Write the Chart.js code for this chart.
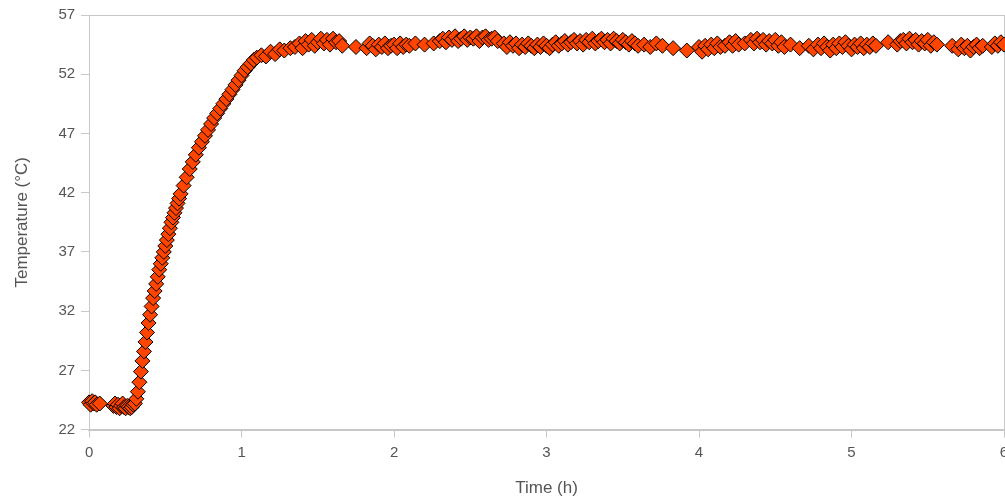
<!DOCTYPE html>
<html>
<head>
<meta charset="utf-8">
<script src="https://cdn.jsdelivr.net/npm/chart.js@4"></script>
<style>
  html, body { margin: 0; padding: 0; background: #fff; }
  #wrap { width: 1005px; height: 503px; }
</style>
</head>
<body>
<div id="wrap"><canvas id="tempChart"></canvas></div>
<script>
// time in hours
var timeH = [
  0.00, 0.01, 0.02, 0.03, 0.04, 0.05, 0.07,
  0.16, 0.17, 0.18, 0.19, 0.20, 0.21, 0.22, 0.23, 0.24, 0.25, 0.26, 0.27, 0.28, 0.29,
  0.30, 0.31, 0.32, 0.33, 0.34, 0.35, 0.36, 0.37, 0.38, 0.39, 0.40, 0.41, 0.42, 0.43, 0.44,
  0.45, 0.46, 0.47, 0.48, 0.49, 0.50, 0.51, 0.52, 0.53, 0.54, 0.55, 0.56, 0.57, 0.58, 0.59,
  0.60, 0.62, 0.64, 0.66, 0.68, 0.70, 0.72, 0.74, 0.76, 0.78, 0.80, 0.82, 0.84, 0.86, 0.88,
  0.90, 0.92, 0.94, 0.96, 0.98, 1.00, 1.02, 1.04, 1.06, 1.08, 1.10, 1.13, 1.16, 1.19, 1.22,
  1.25, 1.28, 1.32,
  1.35, 1.38, 1.40, 1.42, 1.44, 1.46, 1.48, 1.50, 1.52, 1.54, 1.56, 1.58, 1.60, 1.62, 1.64, 1.66,
  1.75, 1.82, 1.84, 1.86, 1.88, 1.90, 1.92, 1.94, 1.96, 1.98, 2.00, 2.02, 2.04, 2.06, 2.08, 2.10,
  2.14, 2.20, 2.26, 2.30, 2.32, 2.34, 2.36, 2.38, 2.40, 2.42, 2.44, 2.46, 2.48, 2.50, 2.52, 2.54,
  2.56, 2.58, 2.60, 2.62, 2.64, 2.66, 2.68, 2.72, 2.74, 2.76, 2.78, 2.80, 2.82, 2.84, 2.86, 2.88,
  2.90, 2.92, 2.94, 2.96, 2.98, 3.00, 3.02, 3.04, 3.06, 3.08, 3.10, 3.12, 3.14, 3.16, 3.18, 3.20,
  3.22, 3.24, 3.26, 3.28, 3.30, 3.32, 3.34, 3.36, 3.38, 3.40, 3.42, 3.44, 3.46, 3.48, 3.50, 3.52,
  3.54, 3.56, 3.58, 3.60, 3.64, 3.68, 3.72, 3.76, 3.83, 3.92,
  4.00, 4.02, 4.04, 4.06, 4.08, 4.10, 4.12, 4.14, 4.17, 4.20, 4.22, 4.24, 4.26, 4.30, 4.34, 4.36,
  4.38, 4.40, 4.42, 4.44, 4.46, 4.48, 4.50, 4.52, 4.54, 4.56, 4.60, 4.66, 4.72, 4.75, 4.78, 4.80,
  4.82, 4.84, 4.86, 4.88, 4.90, 4.92, 4.94, 4.96, 4.98, 5.00, 5.02, 5.04, 5.06, 5.08, 5.10, 5.12,
  5.14, 5.16, 5.24, 5.30, 5.32, 5.34, 5.36, 5.38, 5.40, 5.42, 5.44, 5.46, 5.48, 5.50, 5.52, 5.54,
  5.56, 5.66, 5.70, 5.72, 5.74, 5.76, 5.78, 5.80, 5.82, 5.84, 5.86, 5.92, 5.94, 5.96, 5.98, 6.00
];
// temperature in degrees C
var tempC = [
  24.3, 24.1, 24.4, 24.2, 24.3, 24.1, 24.2,
  24.0, 24.2, 23.9, 24.1, 23.8, 24.0, 24.2, 23.9, 23.8, 24.0, 23.9, 23.8, 23.9, 24.1,
  24.2, 24.6, 25.2, 26.0, 26.9, 27.8, 28.6, 29.4, 30.2, 31.0, 31.7, 32.4, 33.1, 33.7, 34.3,
  34.9, 35.5, 36.0, 36.5, 37.0, 37.5, 38.0, 38.5, 39.0, 39.5, 39.9, 40.3, 40.7, 41.1, 41.5,
  41.9, 42.6, 43.3, 44.0, 44.6, 45.2, 45.8, 46.3, 46.8, 47.3, 47.8, 48.3, 48.7, 49.1, 49.5,
  49.9, 50.3, 50.7, 51.1, 51.5, 51.9, 52.3, 52.6, 52.9, 53.2, 53.4, 53.6, 53.5, 53.9, 53.7,
  54.1, 54.0, 54.2,
  54.3, 54.6, 54.2, 54.8, 54.5, 54.9, 54.4, 54.7, 55.0, 54.6, 54.9, 54.5, 55.0, 54.7, 54.8, 54.4,
  54.3, 54.2, 54.6, 54.4, 54.1, 54.5, 54.3, 54.6, 54.2, 54.4, 54.5, 54.2, 54.6, 54.3, 54.5, 54.4,
  54.6, 54.5, 54.6, 54.8, 55.0, 54.7, 55.1, 54.9, 55.2, 54.8, 55.0, 55.2, 54.9, 55.1, 55.0, 55.2,
  54.8, 55.1, 55.2, 54.9, 55.0, 55.1, 54.8, 54.6, 54.3, 54.7, 54.4, 54.6, 54.2, 54.5, 54.3, 54.6,
  54.4, 54.2, 54.5, 54.3, 54.6, 54.4, 54.2, 54.5, 54.7, 54.4, 54.6, 54.8, 54.5, 54.7, 54.9, 54.6,
  54.8, 54.5, 54.9, 54.7, 55.0, 54.6, 54.8, 55.0, 54.7, 54.9, 54.6, 55.0, 54.8, 54.6, 54.9, 54.7,
  54.5, 54.8, 54.6, 54.4, 54.5, 54.3, 54.6, 54.4, 54.2, 54.0,
  54.3, 53.9, 54.4, 54.1, 54.5, 54.2, 54.6, 54.3, 54.4, 54.7, 54.4, 54.8, 54.5, 54.6, 54.9, 54.6,
  55.0, 54.7, 54.9, 54.5, 54.8, 54.6, 54.9, 54.4, 54.7, 54.3, 54.5, 54.2, 54.4, 54.1, 54.5, 54.2,
  54.6, 54.3, 54.0, 54.5, 54.2, 54.6, 54.3, 54.7, 54.4, 54.1, 54.5, 54.3, 54.6, 54.2, 54.5, 54.3,
  54.6, 54.4, 54.7, 54.5, 54.8, 54.9, 54.6, 55.0, 54.7, 54.9, 54.5, 54.8, 54.6, 54.9, 54.4, 54.7,
  54.5, 54.4, 54.1, 54.5, 54.2, 54.4, 54.0, 54.3, 54.5, 54.2, 54.4, 54.3, 54.6, 54.4, 54.7, 54.5
];
var yTicks = [22, 27, 32, 37, 42, 47, 52, 57];
var xTicks = [0, 1, 2, 3, 4, 5, 6];

var points = timeH.map(function (t, i) {
  return { x: t, y: tempC[i] };
});

var axisGray = "#c8c8c8";
var textGray = "#555555";
var fontFamily = "'Liberation Sans', Arial, sans-serif";

new Chart(document.getElementById("tempChart").getContext("2d"), {
  type: "scatter",
  data: {
    datasets: [
      {
        label: "Temperature",
        data: points,
        pointStyle: "rectRot",
        pointRadius: 7.5,
        pointHoverRadius: 7.5,
        backgroundColor: "#ff4500",
        borderColor: "#000000",
        borderWidth: 1,
        clip: false,
      },
    ],
  },
  options: {
    responsive: true,
    maintainAspectRatio: false,
    animation: false,
    events: [],
    layout: { autoPadding: false, padding: { top: 5, right: 1, left: 12, bottom: 4 } },
    plugins: { legend: { display: false }, tooltip: { enabled: false } },
    scales: {
      x: {
        type: "linear",
        min: 0,
        max: 6,
        afterBuildTicks: function (axis) {
          axis.ticks = xTicks.map(function (v) { return { value: v }; });
        },
        afterFit: function (axis) {
          axis.paddingRight = 0;
        },
        ticks: { color: textGray, font: { family: fontFamily, size: 15 }, padding: 6 },
        grid: {
          color: function (c) { return c.tick && c.tick.value === 6 ? axisGray : "rgba(0,0,0,0)"; },
          tickColor: axisGray,
          tickLength: 8,
          lineWidth: 1,
        },
        border: { color: axisGray, width: 2 },
        title: {
          display: true,
          text: "Time (h)",
          color: textGray,
          font: { family: fontFamily, size: 17 },
          padding: { top: 11, bottom: 0 },
        },
      },
      y: {
        min: 22,
        max: 57,
        afterBuildTicks: function (axis) {
          axis.ticks = yTicks.map(function (v) { return { value: v }; });
        },
        ticks: { color: textGray, font: { family: fontFamily, size: 15 }, padding: 6 },
        grid: {
          color: function (c) { return c.tick && c.tick.value === 57 ? axisGray : "rgba(0,0,0,0)"; },
          tickColor: axisGray,
          tickLength: 8,
          lineWidth: 1,
        },
        border: { color: axisGray, width: 1 },
        title: {
          display: true,
          text: "Temperature (°C)",
          color: textGray,
          font: { family: fontFamily, size: 17 },
          padding: { top: 0, bottom: 20 },
        },
      },
    },
  },
});
</script>
</body>
</html>
